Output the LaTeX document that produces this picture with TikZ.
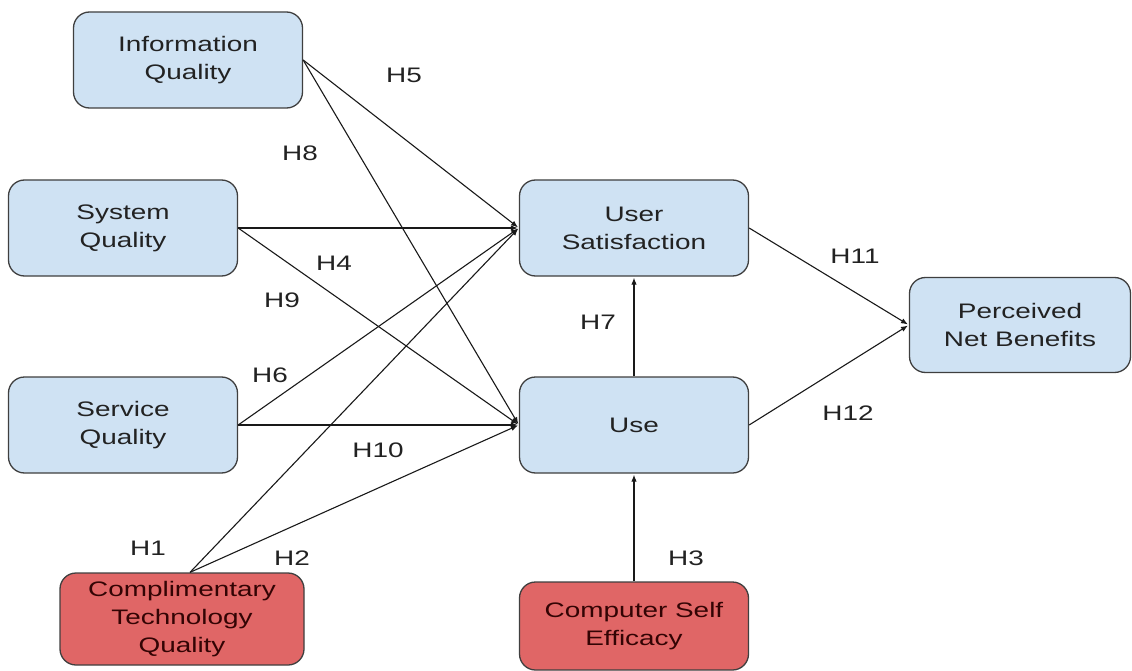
\documentclass[tikz,border=0pt]{standalone}
\usepackage{fontspec}
\setmainfont{Liberation Sans}[FakeStretch=1.33]
\usetikzlibrary{arrows.meta}
\definecolor{boxblue}{HTML}{CFE2F3}
\definecolor{boxred}{HTML}{E06666}
\definecolor{edgegray}{HTML}{3F3F3F}
\definecolor{txtgray}{HTML}{222222}
\definecolor{txtred}{HTML}{330404}
\tikzset{
  bluebox/.style={draw=edgegray, line width=1.3pt, fill=boxblue, rounded corners=16pt,
    minimum width=229pt, minimum height=96pt, align=center, text=txtgray,
    font=\fontsize{21}{28}\selectfont, inner sep=0pt},
  redbox/.style={bluebox, fill=boxred, text=txtred},
  link/.style={draw=black!90, line width=1.1pt, -{Latex[length=7pt,width=5.5pt]}, shorten >=1pt},
  hyp/.style={text=txtgray, font=\fontsize{21}{28}\selectfont, inner sep=0pt}
}
\begin{document}
\begin{tikzpicture}[x=1pt,y=-1pt]
\useasboundingbox (0,0) rectangle (1132,671);
% nodes
\node[bluebox] (iq) at (188,60) {Information\\Quality};
\node[bluebox] (sq) at (123,228) {System\\Quality};
\node[bluebox] (svq) at (123,425) {Service\\Quality};
\node[redbox, minimum width=244pt, minimum height=92pt] (ctq) at (182,619) {Complimentary\\Technology\\Quality};
\node[bluebox] (us) at (634,228) {User\\Satisfaction};
\node[bluebox] (use) at (634,425) {Use};
\node[bluebox, minimum width=221pt, minimum height=95pt] (pnb) at (1020,325) {Perceived\\Net Benefits};
\node[redbox, minimum height=88pt] (cse) at (634,626) {Computer Self\\Efficacy};
% connectors
\coordinate (ctqtop) at ([xshift=8pt]ctq.north);
\draw[link] (iq.east) -- (us.west);
\draw[link] (iq.east) -- (use.west);
\draw[link] (sq.east) -- (us.west);
\draw[link] (sq.east) -- (use.west);
\draw[link] (svq.east) -- (us.west);
\draw[link] (svq.east) -- (use.west);
\draw[link] (ctqtop) -- (us.west);
\draw[link] (ctqtop) -- (use.west);
\draw[link] (use.north) -- (us.south);
\draw[link] (cse.north) -- (use.south);
\draw[link] (us.east) -- (pnb.west);
\draw[link] (use.east) -- (pnb.west);
% labels
\node[hyp] (h5) at (404,75) {H5};
\node[hyp] (h8) at (300,153) {H8};
\node[hyp] (h4) at (334,263) {H4};
\node[hyp] (h9) at (282,300) {H9};
\node[hyp] (h6) at (270,375) {H6};
\node[hyp] (h10) at (378,450) {H10};
\node[hyp] (h1) at (148,548) {H1};
\node[hyp] (h2) at (292,558) {H2};
\node[hyp] (h7) at (598,322) {H7};
\node[hyp] (h3) at (686,558) {H3};
\node[hyp] (h11) at (855,256) {H11};
\node[hyp] (h12) at (848,413) {H12};
\end{tikzpicture}
\end{document}
